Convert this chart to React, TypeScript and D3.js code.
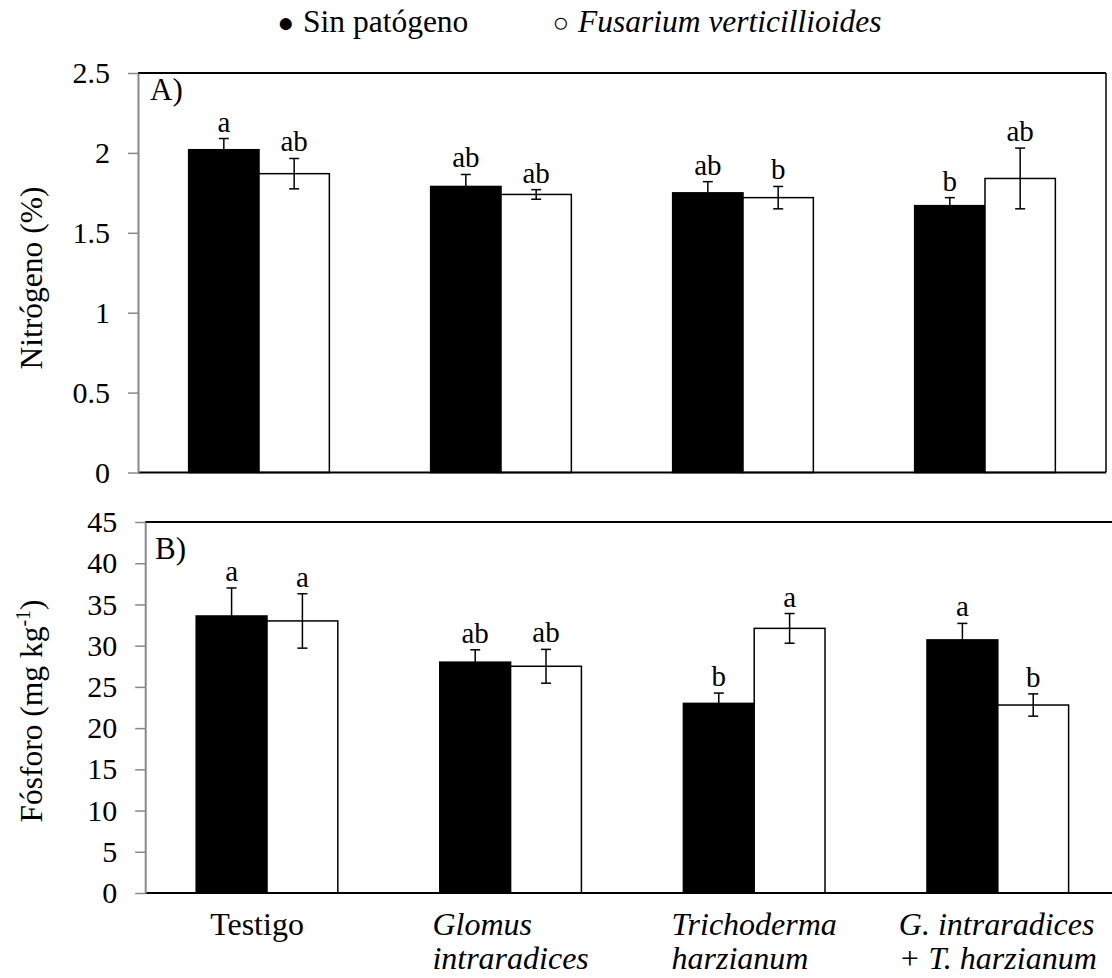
import React, { useEffect, useRef } from 'react';
import * as d3 from 'd3';

// categories and their x-axis label lines
const categories = ['Testigo', 'Glomus intraradices', 'Trichoderma harzianum', 'G. intraradices + T. harzianum'];
const categoryLines = [['Testigo'], ['Glomus', 'intraradices'], ['Trichoderma', 'harzianum'], ['G. intraradices', '+ T. harzianum']];
const categoryItalic = [false, true, true, true];
const series = ['sin', 'fus'];

// A) nitrógeno (%)
const nitroSin = [2.02, 1.79, 1.75, 1.67];
const nitroSinErr = [0.07, 0.075, 0.07, 0.05];
const nitroFus = [1.87, 1.74, 1.72, 1.84];
const nitroFusErr = [0.095, 0.03, 0.07, 0.19];
const nitroSinLetters = ['a', 'ab', 'ab', 'b'];
const nitroFusLetters = ['ab', 'ab', 'b', 'ab'];
const nitroTicks = [0, 0.5, 1, 1.5, 2, 2.5];

// B) fósforo (mg kg-1)
const phosSin = [33.6, 28.0, 23.0, 30.7];
const phosSinErr = [3.4, 1.5, 1.25, 2.0];
const phosFus = [33.0, 27.5, 32.1, 22.8];
const phosFusErr = [3.3, 2.05, 1.8, 1.35];
const phosSinLetters = ['a', 'ab', 'b', 'a'];
const phosFusLetters = ['a', 'ab', 'a', 'b'];
const phosTicks = [0, 5, 10, 15, 20, 25, 30, 35, 40, 45];

const FONT = "'Liberation Serif', 'Times New Roman', Times, serif";

const App = () => {
    const ref = useRef<SVGSVGElement>(null);

    useEffect(() => {
        const svg = d3.select(ref.current);
        svg.selectAll('*').remove();
        svg.style('font-family', FONT);

        const drawPanel = (opts: any) => {
            const { left, right, top, bottom, max, ticks, sin, sinErr, fus, fusErr, sinL, fusL, tag, tagX, tagY } = opts;
            const x = d3.scaleBand().domain(categories).range([left, right]).padding(0);
            const xs = d3.scaleBand().domain(series).range([0, x.bandwidth()]).paddingInner(0).paddingOuter(0.72);
            const y = d3.scaleLinear().domain([0, max]).range([bottom, top]);
            const g = svg.append('g');

            // frame: top, right
            g.append('line').attr('x1', left).attr('x2', right).attr('y1', top).attr('y2', top)
                .attr('stroke', '#000').attr('stroke-width', 2);
            g.append('line').attr('x1', right).attr('x2', right).attr('y1', top).attr('y2', bottom)
                .attr('stroke', '#000').attr('stroke-width', 1.5);

            const rows = categories.map((c, i) => [
                { c, s: 'sin', v: sin[i], e: sinErr[i], l: sinL[i] },
                { c, s: 'fus', v: fus[i], e: fusErr[i], l: fusL[i] },
            ]).flat();

            g.selectAll('.bar').data(rows).enter().append('rect')
                .attr('x', d => x(d.c)! + xs(d.s)!)
                .attr('width', xs.bandwidth())
                .attr('y', d => y(d.v))
                .attr('height', d => y(0) - y(d.v))
                .attr('fill', d => d.s === 'sin' ? '#000' : '#fff')
                .attr('stroke', '#000').attr('stroke-width', 1.5);

            const cx = (d: any) => x(d.c)! + xs(d.s)! + xs.bandwidth() / 2;
            const eb = g.selectAll('.err').data(rows).enter().append('g')
                .attr('stroke', '#000').attr('stroke-width', 1.5);
            eb.append('line').attr('x1', cx).attr('x2', cx)
                .attr('y1', d => y(d.v + d.e)).attr('y2', d => y(d.v - d.e));
            eb.append('line').attr('x1', d => cx(d) - 5).attr('x2', d => cx(d) + 5)
                .attr('y1', d => y(d.v + d.e)).attr('y2', d => y(d.v + d.e));
            eb.append('line').attr('x1', d => cx(d) - 5).attr('x2', d => cx(d) + 5)
                .attr('y1', d => y(d.v - d.e)).attr('y2', d => y(d.v - d.e));

            g.selectAll('.lab').data(rows).enter().append('text')
                .attr('x', cx).attr('y', d => y(d.v + d.e) - 7)
                .attr('text-anchor', 'middle')
                .style('font-size', '29px')
                .text(d => d.l);

            // bottom axis line
            g.append('line').attr('x1', left).attr('x2', right).attr('y1', bottom).attr('y2', bottom)
                .attr('stroke', '#000').attr('stroke-width', 2);

            const ax = g.append('g').attr('transform', `translate(${left},0)`)
                .call(d3.axisLeft(y).tickValues(ticks).tickSize(10).tickSizeOuter(0).tickPadding(18)
                    .tickFormat((d: any) => String(d)));
            ax.attr('font-family', null).attr('font-size', null);
            ax.select('.domain').attr('stroke', '#888').attr('stroke-width', 2);
            ax.selectAll('.tick line').attr('stroke', '#888').attr('stroke-width', 1.5);
            ax.selectAll('.tick text').attr('fill', '#000').style('font-size', '30px');

            g.append('text').attr('x', tagX).attr('y', tagY)
                .style('font-size', '31px').text(tag);

            return x;
        };

        drawPanel({
            left: 138, right: 1106, top: 73, bottom: 472.5, max: 2.5, ticks: nitroTicks,
            sin: nitroSin, sinErr: nitroSinErr, fus: nitroFus, fusErr: nitroFusErr,
            sinL: nitroSinLetters, fusL: nitroFusLetters, tag: 'A)', tagX: 150, tagY: 100,
        });
        const xb = drawPanel({
            left: 145.2, right: 1119.6, top: 522, bottom: 893, max: 45, ticks: phosTicks,
            sin: phosSin, sinErr: phosSinErr, fus: phosFus, fusErr: phosFusErr,
            sinL: phosSinLetters, fusL: phosFusLetters, tag: 'B)', tagX: 155, tagY: 559,
        });

        // y titles
        svg.append('text').attr('transform', 'translate(42,278) rotate(-90)')
            .attr('text-anchor', 'middle')
            .style('font-size', '31.5px').text('Nitrógeno (%)');
        const pt = svg.append('text').attr('transform', 'translate(42,711) rotate(-90)')
            .attr('text-anchor', 'middle')
            .style('font-size', '31.5px');
        pt.append('tspan').text('Fósforo (mg kg');
        pt.append('tspan').attr('dy', -12).style('font-size', '20px').text('-1');
        pt.append('tspan').attr('dy', 12).text(')');

        // x labels: left-aligned block centred on the category
        categories.forEach((c, i) => {
            const lines = categoryLines[i];
            const t = svg.append('g');
            const nodes = lines.map((ln, j) => t.append('text')
                .attr('y', 935 + j * 34)
                .style('font-size', '32px')
                .style('font-style', categoryItalic[i] ? 'italic' : 'normal')
                .text(ln));
            const w = d3.max(nodes, n => (n.node() as SVGTextElement).getComputedTextLength()) || 0;
            const center = xb(c)! + xb.bandwidth() / 2 - (i === 0 ? 10 : 0);
            nodes.forEach(n => n.attr('x', center - w / 2));
        });

        // legend
        const lg = svg.append('g');
        lg.append('text').attr('x', 286).attr('y', 32).attr('text-anchor', 'middle')
            .style('font-size', '28px').text('●');
        lg.append('text').attr('x', 303).attr('y', 32).style('font-size', '31.5px').text('Sin patógeno');
        lg.append('text').attr('x', 561).attr('y', 32).attr('text-anchor', 'middle')
            .style('font-size', '28px').text('○');
        lg.append('text').attr('x', 578).attr('y', 32).style('font-size', '31.5px')
            .style('font-style', 'italic').text('Fusarium verticillioides');
    }, []);

    return <svg ref={ref} width={1112} height={978}
        style={{ position: 'absolute', left: 0, top: 0, background: '#fff' }} />;
};

export default App;
